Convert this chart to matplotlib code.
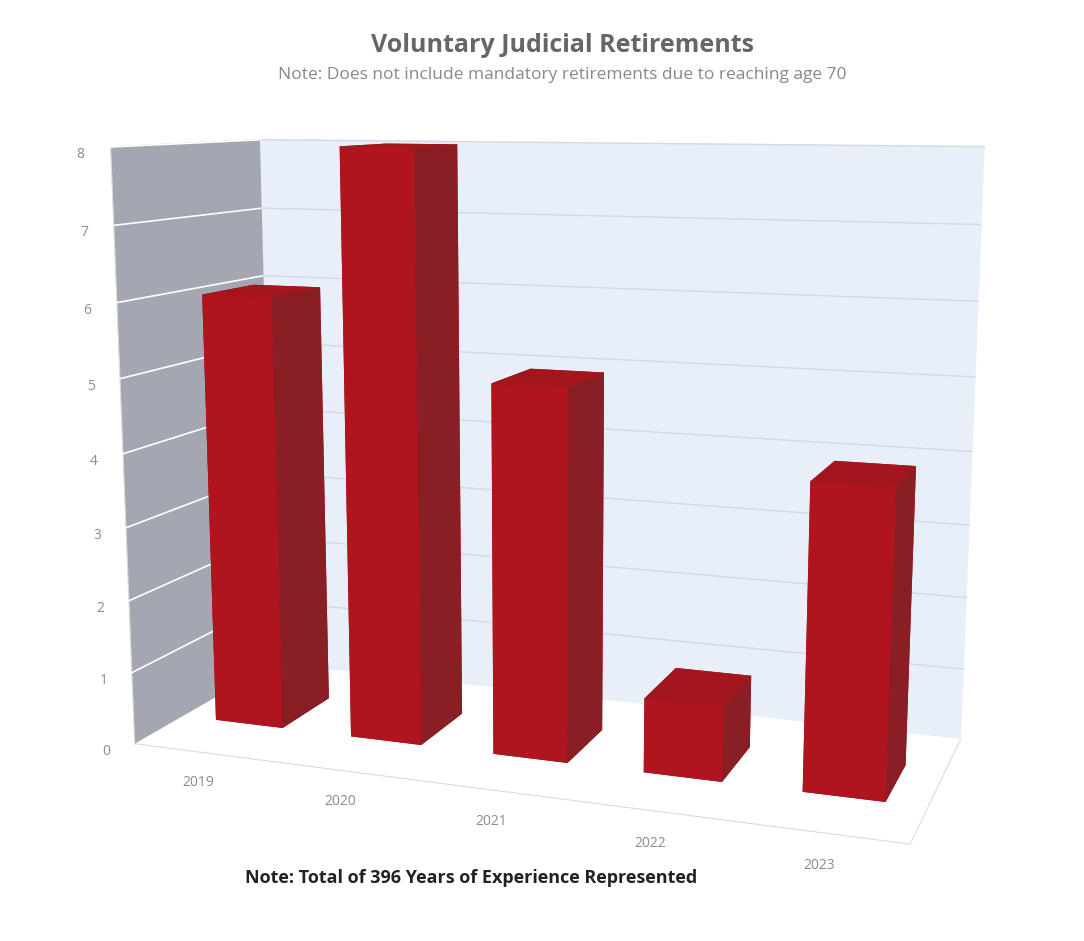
import numpy as np
import matplotlib
matplotlib.use('Agg')
import matplotlib.pyplot as plt

years = ['2019', '2020', '2021', '2022', '2023']
retirements = [6, 8, 5, 1, 4]
z_ticks = [0, 1, 2, 3, 4, 5, 6, 7, 8]

plt.rcParams['font.family'] = ['Open Sans', 'DejaVu Sans']

fig = plt.figure(figsize=(10.84, 9.41), dpi=100)
ax = fig.add_axes([-0.005, 0.026, 1.0, 0.96], projection='3d')

xpos = np.arange(len(years))
bw = 0.5
# face order: bottom, top, front, back, left, right
face_cols = ['#8e1a20', '#a3161e', '#b0141e', '#b0141e', '#8e1a20', '#8a1e25']
ax.bar3d(xpos - bw / 2, 0.32, 0, bw, 0.36, retirements,
         color=face_cols * len(years), shade=False, edgecolor='none')

ax.set_xlim(-0.5, len(years) - 0.5)
ax.set_ylim(0, 1)
ax.set_zlim(0, 8)
ax.set_box_aspect((4.2, 1.6, 3.2), zoom=1.12)
ax.view_init(elev=10.5, azim=-70)
ax.set_proj_type('persp', focal_length=0.4)

ax.set_xticks(xpos)
ax.set_xticklabels(years, color='#8c8c8c', fontsize=10)
ax.set_yticks([])
ax.set_zticks(z_ticks)
ax.set_zticklabels([str(t) for t in z_ticks], color='#8c8c8c', fontsize=10)
ax.zaxis.set_ticks_position('lower')

ax.xaxis.set_pane_color('#a4a7b1')
ax.yaxis.set_pane_color('#e8eff8')
ax.zaxis.set_pane_color('#ffffff')
ax.grid(False)
for a in (ax.xaxis, ax.yaxis, ax.zaxis):
    a.line.set_color('#dcdcdc')
    a._axinfo['tick']['inward_factor'] = 0
    a._axinfo['tick']['outward_factor'] = 0

# gridlines: white on the side wall, pale grey on the back wall
x0, x1 = ax.get_xlim()
for t in z_ticks[1:]:
    ax.plot([x0, x0], [0, 1], [t, t], color='#ffffff', lw=1.2, zorder=0)
    ax.plot([x0, x1], [1, 1], [t, t], color='#d3dae2', lw=1.0, zorder=0)

fig.text(0.519, 0.945, 'Voluntary Judicial Retirements', ha='center',
         fontsize=18, fontweight='bold', color='#666666')
fig.text(0.519, 0.916, 'Note: Does not include mandatory retirements due to reaching age 70',
         ha='center', fontsize=12.5, color='#888888')
fig.text(0.435, 0.062, 'Note: Total of 396 Years of Experience Represented', ha='center',
         fontsize=13, fontweight='bold', color='#222222')

fig.savefig('out.png', dpi=100)
